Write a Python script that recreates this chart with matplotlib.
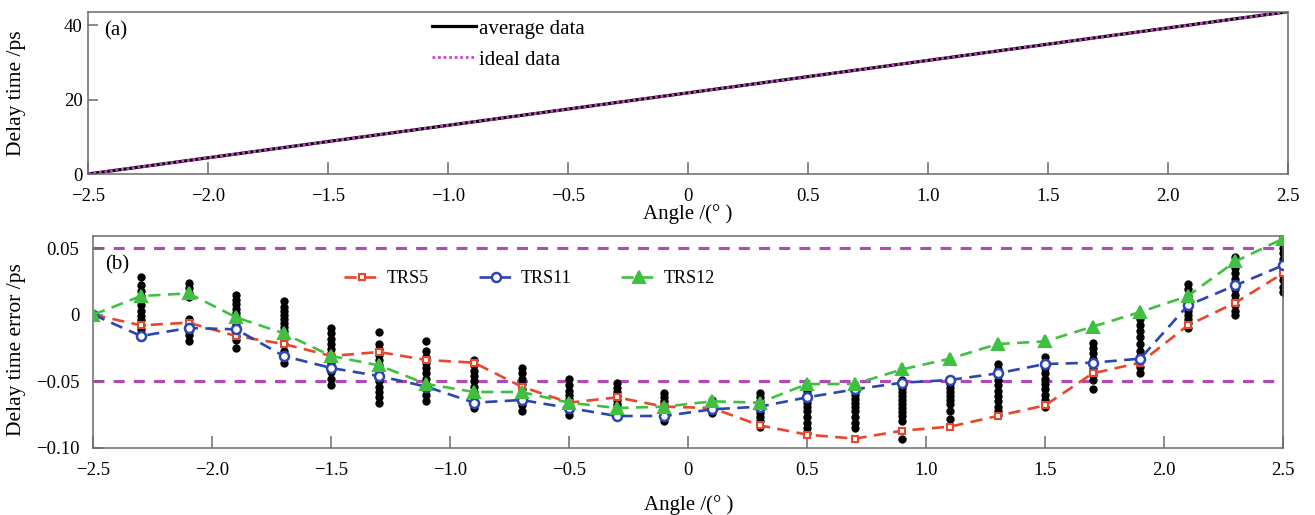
import numpy as np
import matplotlib
matplotlib.use("Agg")
import matplotlib.pyplot as plt

plt.rcParams['font.family'] = ['Liberation Serif', 'DejaVu Serif']

# ---- panel (a): delay time vs angle
angle_a = [-2.5, 2.5]
avg_delay = [0.0, 43.6]
ideal_delay = [0.0, 43.6]

# ---- panel (b): delay time error
angles = [-2.5, -2.3, -2.1, -1.9, -1.7, -1.5, -1.3, -1.1, -0.9, -0.7, -0.5, -0.3, -0.1,
          0.1, 0.3, 0.5, 0.7, 0.9, 1.1, 1.3, 1.5, 1.7, 1.9, 2.1, 2.3, 2.5]

trs5 = [0.0, -0.008, -0.006, -0.016, -0.022, -0.031, -0.028, -0.034, -0.036, -0.054, -0.066,
        -0.062, -0.069, -0.070, -0.083, -0.090, -0.093, -0.087, -0.084, -0.076, -0.068,
        -0.044, -0.036, -0.008, 0.009, 0.031]
trs11 = [0.0, -0.016, -0.010, -0.011, -0.031, -0.040, -0.046, -0.054, -0.066, -0.064, -0.070,
         -0.076, -0.076, -0.071, -0.069, -0.062, -0.056, -0.051, -0.049, -0.044, -0.037,
         -0.036, -0.033, 0.007, 0.022, 0.037]
trs12 = [0.0, 0.014, 0.016, -0.002, -0.014, -0.031, -0.038, -0.052, -0.058, -0.058, -0.066,
         -0.070, -0.069, -0.065, -0.066, -0.052, -0.052, -0.041, -0.033, -0.022, -0.020,
         -0.009, 0.002, 0.014, 0.040, 0.057]

# raw measurements (black dots), one list per angle
raw_points = [
    [0.0],
    [0.028, 0.022, 0.018, 0.014, 0.011, 0.007, 0.003, -0.001, -0.004, -0.008, -0.011, -0.014, -0.017],
    [0.024, 0.020, 0.016, 0.013, -0.003, -0.006, -0.009, -0.012, -0.015, -0.020],
    [0.015, 0.011, 0.008, 0.004, 0.001, -0.002, -0.005, -0.008, -0.011, -0.013, -0.016, -0.019, -0.025],
    [0.010, 0.006, 0.003, 0.000, -0.003, -0.006, -0.009, -0.012, -0.015, -0.018, -0.022, -0.027, -0.032, -0.036],
    [-0.010, -0.014, -0.018, -0.022, -0.026, -0.030, -0.033, -0.036, -0.039, -0.043, -0.048, -0.053],
    [-0.013, -0.022, -0.026, -0.030, -0.034, -0.038, -0.042, -0.046, -0.050, -0.054, -0.058, -0.062, -0.066],
    [-0.020, -0.027, -0.032, -0.036, -0.040, -0.044, -0.048, -0.052, -0.056, -0.060, -0.065],
    [-0.034, -0.038, -0.042, -0.046, -0.050, -0.054, -0.058, -0.062, -0.066, -0.070],
    [-0.040, -0.044, -0.048, -0.052, -0.056, -0.060, -0.064, -0.068, -0.072],
    [-0.048, -0.053, -0.057, -0.060, -0.063, -0.066, -0.069, -0.072, -0.075],
    [-0.051, -0.055, -0.058, -0.061, -0.064, -0.067, -0.069, -0.071],
    [-0.059, -0.062, -0.065, -0.068, -0.071, -0.074, -0.077, -0.080],
    [-0.064, -0.066, -0.068, -0.070, -0.072, -0.074],
    [-0.059, -0.062, -0.065, -0.068, -0.071, -0.074, -0.077, -0.080, -0.084],
    [-0.057, -0.060, -0.063, -0.066, -0.069, -0.072, -0.077, -0.081, -0.085, -0.089],
    [-0.054, -0.057, -0.060, -0.063, -0.066, -0.069, -0.072, -0.077, -0.081, -0.085],
    [-0.049, -0.052, -0.055, -0.058, -0.061, -0.064, -0.067, -0.070, -0.073, -0.076, -0.080, -0.093],
    [-0.049, -0.052, -0.055, -0.058, -0.061, -0.064, -0.067, -0.072, -0.078],
    [-0.037, -0.041, -0.045, -0.049, -0.053, -0.057, -0.061, -0.065, -0.069, -0.072, -0.075],
    [-0.032, -0.036, -0.040, -0.044, -0.048, -0.052, -0.056, -0.060, -0.064, -0.069],
    [-0.021, -0.025, -0.029, -0.033, -0.037, -0.041, -0.045, -0.049, -0.056],
    [-0.003, -0.008, -0.012, -0.017, -0.022, -0.027, -0.031, -0.035, -0.039, -0.044],
    [0.023, 0.019, 0.014, 0.010, 0.006, 0.003, 0.000, -0.003, -0.006, -0.010],
    [0.043, 0.039, 0.035, 0.031, 0.027, 0.023, 0.019, 0.015, 0.011, 0.007, 0.003, 0.000],
    [0.058, 0.054, 0.050, 0.046, 0.042, 0.038, 0.034, 0.030, 0.026, 0.021, 0.017],
]

limit_band = [-0.05, 0.05]
xticks = [-2.5, -2.0, -1.5, -1.0, -0.5, 0, 0.5, 1.0, 1.5, 2.0, 2.5]
xticklabels = ["\u22122.5", "\u22122.0", "\u22121.5", "\u22121.0", "\u22120.5", "0",
               "0.5", "1.0", "1.5", "2.0", "2.5"]

RED = '#e8472b'
BLUE = '#2b45b2'
GREEN = '#40c040'
MAGENTA = '#b448b8'
SPINE = '#6a6a6a'

fig = plt.figure(figsize=(13.15, 5.15), dpi=100)
ax1 = fig.add_axes([0.0669, 0.6621, 0.9126, 0.3152])
ax2 = fig.add_axes([0.0710, 0.1301, 0.9047, 0.4116])


def style_axes(ax, ypad):
    for sp in ax.spines.values():
        sp.set_color(SPINE)
        sp.set_linewidth(1.1)
    ax.tick_params(axis='x', direction='in', length=9, width=1.1, color=SPINE,
                   labelsize=13.5, pad=10, top=False)
    ax.tick_params(axis='y', direction='in', length=7, width=1.1, color=SPINE,
                   labelsize=13.5, pad=ypad, right=False)
    ax.set_xlim(-2.5, 2.5)
    ax.set_xticks(xticks)
    ax.set_xticklabels(xticklabels)


# (a)
ax1.plot(angle_a, avg_delay, color='black', lw=2.3, label='average data')
ax1.plot(angle_a, ideal_delay, color='#cc44cc', lw=2.0, dashes=(1, 1), label='ideal data')
ax1.set_ylim(0, 43.6)
ax1.set_yticks([0, 20, 40])
style_axes(ax1, 4)
ax1.set_ylabel('Delay time /ps', fontsize=15.5)
ax1.yaxis.set_label_coords(-0.052, 0.5)
ax1.set_xlabel('Angle /(\u00b0 )', fontsize=15)
ax1.xaxis.set_label_coords(0.5, -0.185)
ax1.text(0.0133, 0.88, '(a)', transform=ax1.transAxes, fontsize=15, va='center', ha='left')
ax1.legend(loc='upper left', bbox_to_anchor=(0.2867, 0.955), frameon=False, fontsize=15,
           handlelength=2.1, handletextpad=0.15, labelspacing=0.55, borderpad=0,
           borderaxespad=0)

# (b)
for a, pts in zip(angles, raw_points):
    ax2.scatter([a] * len(pts), pts, s=36, color='black', zorder=2, linewidths=0)

for yv in limit_band:
    ax2.axhline(yv, color=MAGENTA, lw=2.2, dashes=(3.6, 3.0), zorder=1)

ax2.plot(angles, trs5, color=RED, lw=1.9, dashes=(4.6, 2.8), marker='s', ms=4.5,
         mfc='white', mec=RED, mew=1.5, label='TRS5', zorder=3)
ax2.plot(angles, trs11, color=BLUE, lw=1.9, dashes=(4.6, 2.8), marker='o', ms=6.5,
         mfc='white', mec=BLUE, mew=1.8, label='TRS11', zorder=3)
ax2.plot(angles, trs12, color=GREEN, lw=1.9, dashes=(4.6, 2.8), marker='^', ms=8,
         mfc=GREEN, mec=GREEN, mew=1.5, label='TRS12', zorder=3)

ax2.set_ylim(-0.10, 0.059)
ax2.set_yticks([-0.10, -0.05, 0, 0.05])
ax2.set_yticklabels(["\u22120.10", "\u22120.05", "0", "0.05"])
style_axes(ax2, 10)
ax2.set_ylabel('Delay time error /ps', fontsize=15.5)
ax2.yaxis.set_label_coords(-0.057, 0.465)
ax2.set_xlabel('Angle /(\u00b0 )', fontsize=15)
ax2.xaxis.set_label_coords(0.5, -0.22)
ax2.text(0.0098, 0.864, '(b)', transform=ax2.transAxes, fontsize=15, va='center', ha='left')
ax2.legend(loc='center left', bbox_to_anchor=(0.211, 0.798), frameon=False, fontsize=13,
           ncol=3, handlelength=1.9, handletextpad=0.45, columnspacing=2.75, borderpad=0,
           borderaxespad=0)

fig.savefig('out.png', dpi=100)
